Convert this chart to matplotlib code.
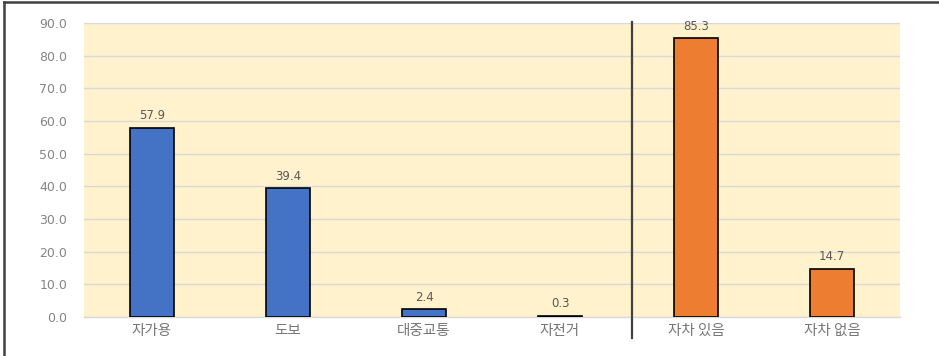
import matplotlib
matplotlib.use("Agg")
import matplotlib.pyplot as plt
from matplotlib.lines import Line2D
import numpy as np

plt.rcParams['font.family'] = ['DejaVu Sans', 'Noto Sans CJK KR']

categories = ['자가용', '도보', '대중교통', '자전거', '자차 있음', '자차 없음']
values = [57.9, 39.4, 2.4, 0.3, 85.3, 14.7]
colors = ['#4472C4'] * 4 + ['#ED7D31'] * 2
y_ticks = [0, 10, 20, 30, 40, 50, 60, 70, 80, 90]

W, H = 939, 356
fig = plt.figure(figsize=(W / 100, H / 100), dpi=100)
fig.patch.set_facecolor('white')

left, right, top, bottom = 84, 900, 23, 317
ax = fig.add_axes([left / W, 1 - bottom / H, (right - left) / W, (bottom - top) / H])
ax.set_facecolor('#FFF2CC')

x = np.arange(len(categories))
bars = ax.bar(x, values, width=0.32, color=colors, edgecolor='black', linewidth=1.2, zorder=3)

for xi, v in zip(x, values):
    ax.annotate(f'{v:.1f}', (xi, v), xytext=(0, 4), textcoords='offset points',
                ha='center', va='bottom', fontsize=8.5, color='#595959', zorder=4)

ax.set_xlim(-0.5, len(categories) - 0.5)
ax.set_ylim(0, 90)
ax.set_yticks(y_ticks)
ax.set_yticklabels([f'{t:.1f}' for t in y_ticks], fontsize=9, color='#858585')
ax.set_xticks(x)
ax.set_xticklabels(categories, fontsize=10.5, color='#777777', family=['Noto Sans CJK KR', 'DejaVu Sans'])
ax.tick_params(axis='y', length=0, pad=12)
ax.tick_params(axis='x', length=0, pad=5)

ax.grid(axis='y', color='#D9D9D9', linewidth=1.0, zorder=0)
ax.set_axisbelow(True)
for s in ['top', 'right', 'left']:
    ax.spines[s].set_visible(False)
ax.spines['bottom'].set_color('#D9D9D9')
ax.spines['bottom'].set_linewidth(1.0)

# separator between the mode group and the car-ownership group
ax.plot([3.53, 3.53], [-0.071, 1.003], transform=ax.get_xaxis_transform(),
        color='#404040', linewidth=1.6, clip_on=False, zorder=5)

# outer frame lines (top and left)
fig.add_artist(Line2D([4 / W, 1], [1 - 2 / H, 1 - 2 / H], transform=fig.transFigure,
                      color='#404040', linewidth=1.8))
fig.add_artist(Line2D([4 / W, 4 / W], [0, 1 - 2 / H], transform=fig.transFigure,
                      color='#404040', linewidth=1.8))

fig.savefig('out.png', dpi=100, facecolor='white')
